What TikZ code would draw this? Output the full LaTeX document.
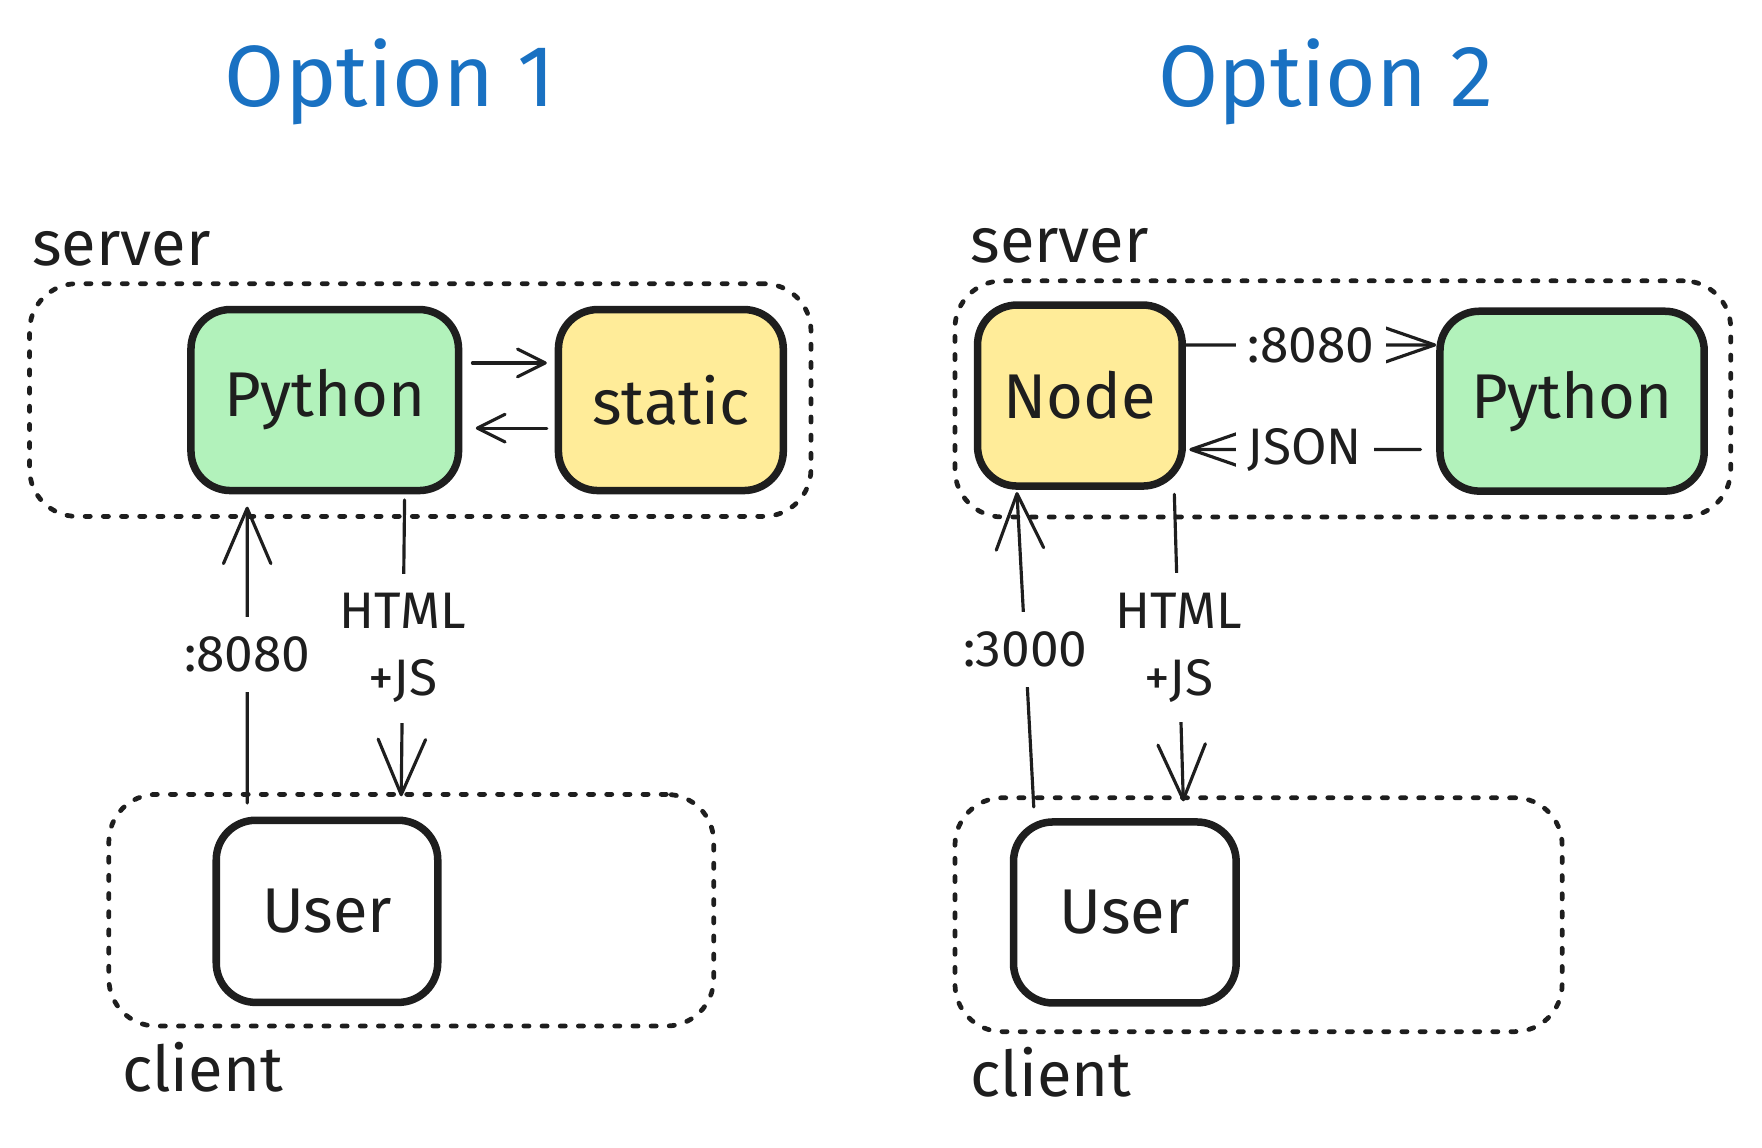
\documentclass[tikz,border=0pt]{standalone}
\usepackage{fontspec}
\setmainfont{Fira Sans}
\usetikzlibrary{arrows.meta, positioning}

\definecolor{ink}{HTML}{1E1E1E}
\definecolor{pygreen}{HTML}{B2F2BB}
\definecolor{softyellow}{HTML}{FFEC99}
\definecolor{headblue}{HTML}{1971C2}

\begin{document}
\begin{tikzpicture}[x=0.01cm, y=-0.01cm,
    block/.style={rectangle, rounded corners=10pt, draw=ink, line width=1.9pt, minimum height=1.61cm, text=ink, font=\fontsize{16}{19}\selectfont},
    area/.style={rectangle, rounded corners=12pt, draw=ink, line width=1.2pt, dash pattern=on 1.3pt off 3.3pt, line cap=round},
    wire/.style={draw=ink, line width=0.8pt, line cap=round},
    bigup/.style={wire, -{Straight Barb[length=14pt, width=12pt, round]}},
    smallup/.style={wire, -{Straight Barb[length=7pt, width=7pt, round]}},
    midup/.style={wire, -{Straight Barb[length=13pt, width=9pt, round]}},
    lbl/.style={fill=white, inner xsep=1pt, inner ysep=5pt, text=ink, font=\fontsize{13}{17}\selectfont, align=center},
    zonename/.style={text=ink, inner sep=0pt, font=\fontsize{16}{19}\selectfont},
    heading/.style={text=headblue, inner sep=0pt, font=\fontsize{22}{26}\selectfont}
    ]
    \useasboundingbox (0,0) rectangle (1568,1021);
    % Titles
    \node[heading, anchor=base] (t1) at (347,95) {Option 1};
    \node[heading, anchor=base] (t2) at (1180,95) {Option 2};
    % Option 1
    \node[area, minimum width=6.95cm, minimum height=2.07cm] (srv1) at (374,356) {};
    \node[area, minimum width=5.38cm, minimum height=2.06cm] (cli1) at (366,810) {};
    \node[zonename, anchor=base west] (srvname1) at (28,236) {server};
    \node[zonename, anchor=base west] (cliname1) at (108,971) {client};
    \node[block, fill=pygreen, minimum width=2.38cm] (py1) at (289,356) {Python};
    \node[block, fill=softyellow, minimum width=2.0cm] (st1) at (597,356) {static};
    \node[block, fill=white, minimum width=1.97cm, minimum height=1.62cm] (user1) at (291,811) {User};
    \draw[smallup] ([shift={(0.09cm,0.33cm)}]py1.east) -- ([shift={(-0.07cm,0.33cm)}]st1.west);
    \draw[smallup] ([shift={(-0.07cm,-0.25cm)}]st1.west) -- ([shift={(0.12cm,-0.25cm)}]py1.east);
    \draw[bigup] ([shift={(-0.71cm,0.12cm)}]user1.north) -- node[lbl] {:8080} ([shift={(-0.69cm,-0.11cm)}]py1.south);
    \draw[bigup] ([shift={(0.71cm,-0.05cm)}]py1.south) -- node[lbl] {HTML\\+JS} ([shift={(0.66cm,0.18cm)}]user1.north);
    % Option 2
    \node[area, minimum width=6.9cm, minimum height=2.1cm] (srv2) at (1195,355) {};
    \node[area, minimum width=5.4cm, minimum height=2.08cm] (cli2) at (1120,814) {};
    \node[zonename, anchor=base west] (srvname2) at (863,234) {server};
    \node[zonename, anchor=base west] (cliname2) at (863,976) {client};
    \node[block, fill=softyellow, minimum width=1.82cm] (nd) at (961,352) {Node};
    \node[block, fill=pygreen, minimum width=2.35cm, minimum height=1.6cm] (py2) at (1399,357) {Python};
    \node[block, fill=white, minimum width=1.98cm] (user2) at (1001,812) {User};
    \draw[midup] ([yshift=0.45cm]nd.east) -- node[lbl, inner ysep=1pt, inner xsep=3pt] {:8080} ([yshift=0.5cm]py2.west);
    \draw[midup] ([shift={(-0.14cm,-0.43cm)}]py2.west) -- node[lbl, inner ysep=1pt, inner xsep=3pt] {JSON} ([shift={(0.03cm,-0.48cm)}]nd.east);
    \draw[bigup] ([shift={(-0.81cm,0.1cm)}]user2.north) -- node[lbl] {:3000} ([shift={(-0.56cm,-0.02cm)}]nd.south);
    \draw[bigup] ([shift={(0.84cm,-0.04cm)}]nd.south) -- node[lbl] {HTML\\+JS} ([shift={(0.52cm,0.15cm)}]user2.north);
\end{tikzpicture}
\end{document}
